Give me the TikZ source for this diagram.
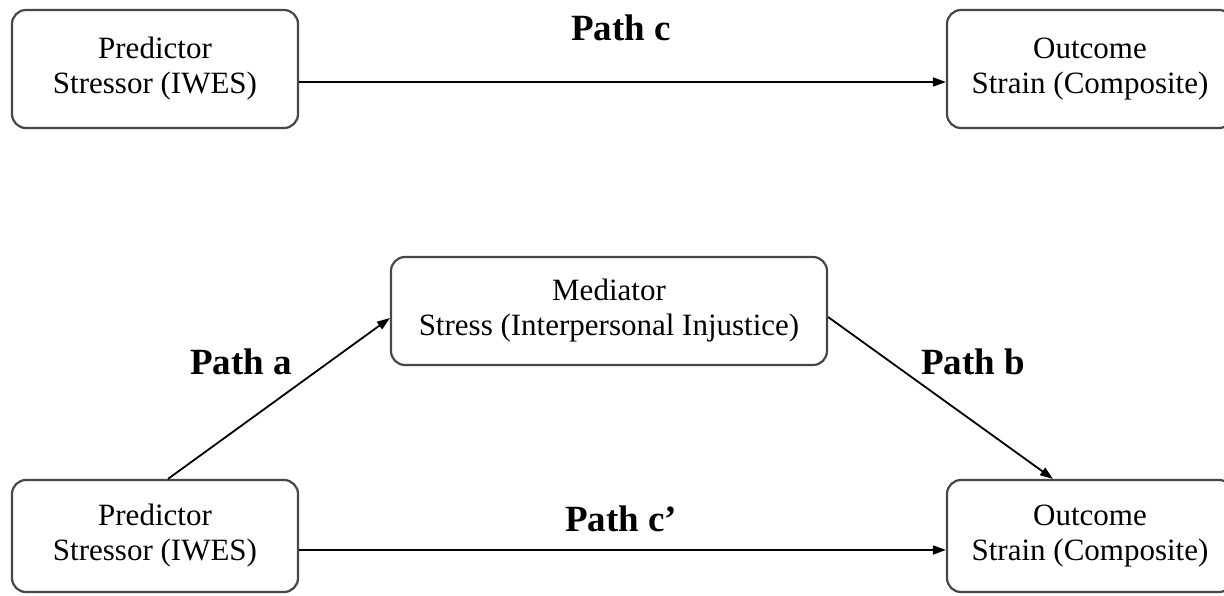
\documentclass[tikz,border=0pt]{standalone}
\usepackage{fontspec}
\setmainfont{Liberation Serif}
\usetikzlibrary{arrows.meta}
\begin{document}
\begin{tikzpicture}[x=1pt,y=-1pt,
  box/.style={draw=black!72, line width=2.2pt, rounded corners=14pt, fill=white,
    minimum width=286pt, align=center, inner sep=0pt,
    font=\fontsize{31}{35}\selectfont},
  conn/.style={line width=1.8pt, draw=black, -{Triangle[length=13pt,width=9pt]}},
  lbl/.style={inner sep=0pt, font=\fontsize{37}{44}\selectfont\bfseries}]
\useasboundingbox (0,0) rectangle (1224,595);
\clip (0,0) rectangle (1224,595);
\fill[white] (0,0) rectangle (1224,595);

% top row
\node[box, minimum height=118pt] (tl) at (155,69) {Predictor\\Stressor (IWES)};
\node[box, minimum height=118pt] (tr) at (1090,69) {Outcome\\Strain (Composite)};
\node[lbl] (lc) at (621,28) {Path c};
\draw[conn] ([yshift=-13pt]tl.east) -- ([yshift=-13pt]tr.west);

% bottom model
\node[box, minimum width=436pt, minimum height=108pt] (med) at (609,311) {Mediator\\Stress (Interpersonal Injustice)};
\node[box, minimum height=112pt] (bl) at (155,536) {Predictor\\Stressor (IWES)};
\node[box, minimum height=112pt] (br) at (1090,536) {Outcome\\Strain (Composite)};

\draw[conn] ([xshift=13pt]bl.north) -- ([yshift=-7pt]med.west);
\draw[conn] ([yshift=-6pt]med.east) -- ([xshift=-37pt]br.north);
\draw[conn] ([yshift=-14pt]bl.east) -- ([yshift=-14pt]br.west);

\node[lbl] (la) at (241,362) {Path a};
\node[lbl] (lb) at (973,362) {Path b};
\node[lbl] (lcp) at (621,519) {Path c’};
\end{tikzpicture}
\end{document}
